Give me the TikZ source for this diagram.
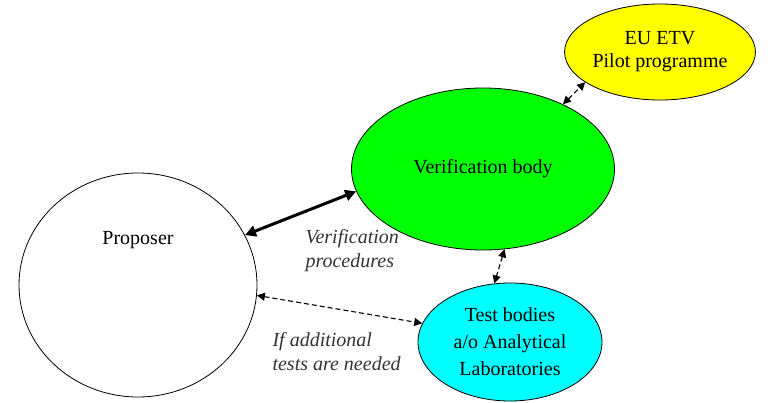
\documentclass[tikz,border=0pt]{standalone}
\usepackage{fontspec}
\setmainfont{Liberation Serif}
\usetikzlibrary{shapes.geometric,arrows.meta}
\definecolor{limefill}{RGB}{0,255,0}
\definecolor{yellowfill}{RGB}{255,255,0}
\definecolor{aquafill}{RGB}{0,255,255}
\tikzset{
  party/.style   = {ellipse, draw=black, line width=0.8pt, inner sep=0pt, align=center,
                    font=\fontsize{20}{23}\selectfont},
  note/.style    = {anchor=west, align=left, text=black!80,
                    font=\fontsize{20}{24}\selectfont\itshape},
  strong/.style  = {line width=3pt, {Triangle[length=11pt,width=11pt]}-{Triangle[length=11pt,width=11pt]}},
  weak/.style    = {line width=1.1pt, dash pattern=on 5pt off 3pt,
                    {Triangle[length=8pt,width=8pt]}-{Triangle[length=8pt,width=8pt]}}
}
\begin{document}
\begin{tikzpicture}[x=1pt, y=-1pt]
        \useasboundingbox (0,0) rectangle (774,403);
        \node[party, fill=white,      minimum width=238pt, minimum height=224pt] (proposer) at (138,285) {};
        \node[party, fill=limefill,   minimum width=263pt, minimum height=162pt] (verif)    at (483,169) {Verification body};
        \node[party, fill=yellowfill, minimum width=184pt, minimum height=96pt]  (etv)      at (660,52)  {EU ETV\\Pilot programme};
        \node[party, fill=aquafill,   minimum width=184pt, minimum height=118pt,
              font=\fontsize{20}{27}\selectfont]                              (tests)    at (510,342) {Test bodies\\a/o Analytical\\Laboratories};
        \node[font=\fontsize{20}{23}\selectfont] (proposer text) at (138,240) {Proposer};
        \node[note] (procedures) at (302,251) {Verification\\procedures};
        \node[note] (additional) at (269,352) {If additional\\tests are needed};
        \draw[strong] (proposer.25)  -- (verif.190);
        \draw[weak]   (verif.39)     -- (etv.202);
        \draw[weak]   (verif.285)    -- (tests.105);
        \draw[weak]   (proposer.355) -- (tests.168);
      \end{tikzpicture}
\end{document}
